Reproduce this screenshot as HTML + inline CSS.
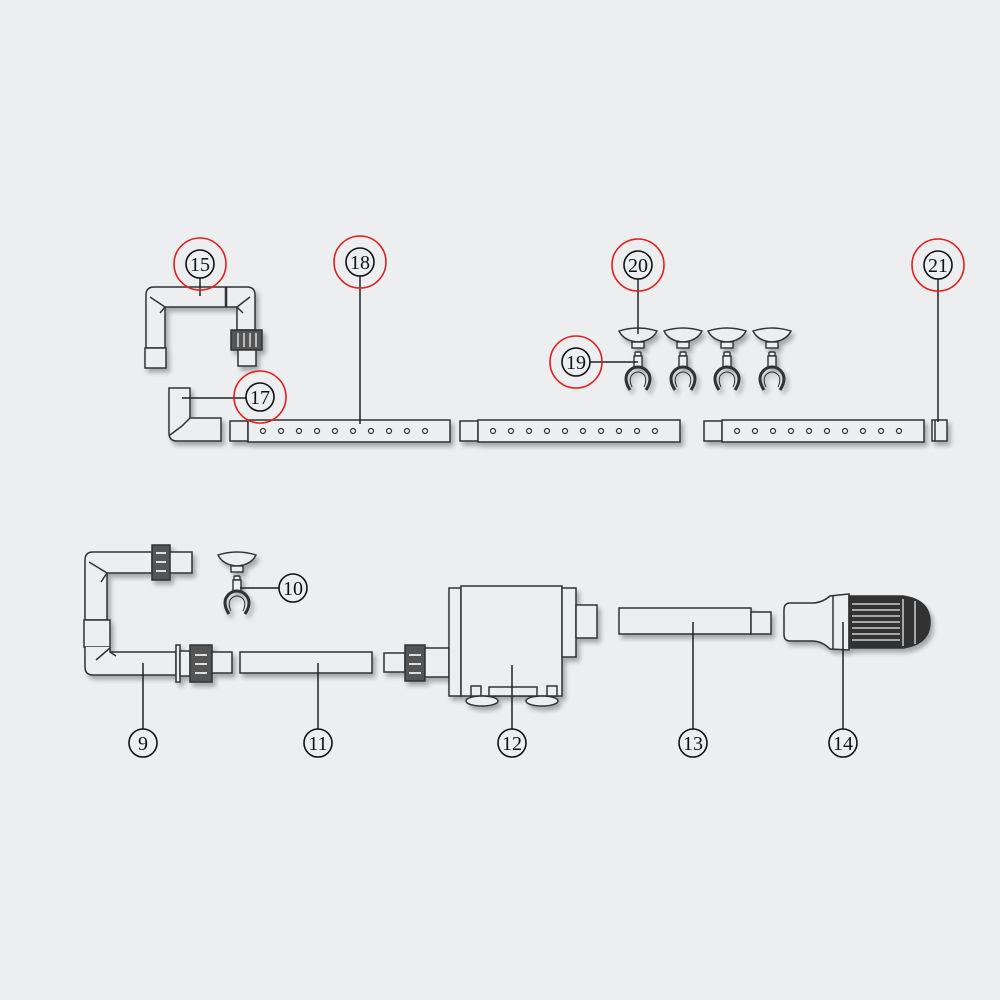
<!DOCTYPE html>
<html><head><meta charset="utf-8"><style>
html,body{margin:0;padding:0;background:#eceef0;}
svg{display:block}
text{font-family:"Liberation Serif",serif;font-size:20px;fill:#111;text-anchor:middle;}
</style></head><body>
<svg width="1000" height="1000" viewBox="0 0 1000 1000" xmlns="http://www.w3.org/2000/svg">
<defs>
<filter id="sh" x="-20%" y="-20%" width="140%" height="160%">
<feGaussianBlur in="SourceAlpha" stdDeviation="2.5"/><feOffset dx="3" dy="4"/>
<feComponentTransfer><feFuncA type="linear" slope="0.3"/></feComponentTransfer>
<feMerge><feMergeNode/><feMergeNode in="SourceGraphic"/></feMerge></filter>
<g id="bar">
<rect x="0" y="1" width="18" height="20" fill="#eceef0" stroke="#333" stroke-width="1.5"/>
<rect x="18" y="0" width="202" height="22" fill="#eceef0" stroke="#333" stroke-width="1.5"/>
<g fill="none" stroke="#333" stroke-width="1.2">
<circle cx="33" cy="11" r="2.5"/><circle cx="51" cy="11" r="2.5"/><circle cx="69" cy="11" r="2.5"/><circle cx="87" cy="11" r="2.5"/><circle cx="105" cy="11" r="2.5"/><circle cx="123" cy="11" r="2.5"/><circle cx="141" cy="11" r="2.5"/><circle cx="159" cy="11" r="2.5"/><circle cx="177" cy="11" r="2.5"/><circle cx="195" cy="11" r="2.5"/></g>
</g>
<g id="cup" fill="#eceef0" stroke="#333" stroke-width="1.4">
<path d="M-19,0 Q0,-6 19,0 Q14,10 0,11 Q-14,10 -19,0 Z"/>
<rect x="-6" y="11" width="12" height="6"/>
<rect x="-3" y="21" width="6" height="4" rx="1"/>
<rect x="-4" y="25" width="8" height="11"/>
<path d="M-8,59 Q-14,50 -11,43 Q-7,36 0,36 Q7,36 11,43 Q14,50 8,59" fill="none" stroke="#333" stroke-width="3"/>
<path d="M-6,56 Q-9,50 -7,45 Q-4,41 0,41 Q4,41 7,45 Q9,50 6,56" fill="none" stroke="#333" stroke-width="1"/>
</g>
</defs>

<g filter="url(#sh)" stroke="#333" stroke-width="1.5" fill="#eceef0">
<path d="M146,348 L146,295 Q146,287 154,287 L247,287 Q255,287 255,295 L255,330 L237,330 L237,307 L165,307 L165,348 Z"/>
<line x1="226" y1="287" x2="226" y2="307" stroke-width="2.5"/>
<path d="M150,297 L165,307 L160,313 M250,297 L237,307 L243,313" fill="none"/>
<rect x="145" y="348" width="21" height="20"/>
<rect x="231" y="330" width="31" height="20" fill="#555"/>
<g stroke="#ddd" stroke-width="1.5"><line x1="238" y1="333" x2="238" y2="347"/><line x1="244" y1="333" x2="244" y2="347"/><line x1="250" y1="333" x2="250" y2="347"/><line x1="256" y1="333" x2="256" y2="347"/></g>
<rect x="238" y="350" width="18" height="16"/>
<path d="M169,388 L190,388 L190,418 L221,418 L221,441 L177,441 Q169,441 169,433 Z"/>
<path d="M182,426 L170,435 M190,418 L182,426" fill="none"/>
<use href="#bar" x="230" y="420"/>
<use href="#bar" x="460" y="420"/>
<use href="#bar" x="704" y="420"/>
<rect x="932" y="420" width="15" height="21"/>
<line x1="935" y1="420" x2="935" y2="441"/>
<use href="#cup" x="638" y="331"/>
<use href="#cup" x="683" y="331"/>
<use href="#cup" x="727" y="331"/>
<use href="#cup" x="772" y="331"/>
<use href="#cup" x="237" y="555"/>
<path d="M85,620 L85,560 Q85,552 93,552 L152,552 L152,573 L107,573 L107,620 Z"/>
<path d="M89,562 L107,573 L101,582" fill="none"/>
<rect x="84" y="620" width="26" height="27"/>
<path d="M85,647 L85,667 Q85,675 93,675 L176,675 L176,652 L110,652 L110,647" />
<path d="M110,648 L96,660 M110,652 L116,656" fill="none"/>
<rect x="176" y="645" width="4" height="37"/>
<rect x="180" y="651" width="10" height="25"/>
<rect x="152" y="545" width="18" height="35" fill="#555"/>
<g stroke="#ddd" stroke-width="2"><line x1="156" y1="553" x2="166" y2="553"/><line x1="156" y1="562" x2="166" y2="562"/><line x1="156" y1="571" x2="166" y2="571"/></g>
<rect x="170" y="552" width="22" height="21"/>
<rect x="190" y="645" width="22" height="37" fill="#555"/>
<g stroke="#ddd" stroke-width="2"><line x1="195" y1="655" x2="207" y2="655"/><line x1="195" y1="664" x2="207" y2="664"/><line x1="195" y1="673" x2="207" y2="673"/></g>
<rect x="212" y="652" width="20" height="21"/>
<rect x="240" y="652" width="132" height="21"/>
<rect x="384" y="653" width="21" height="19"/>
<rect x="405" y="645" width="20" height="36" fill="#555"/>
<g stroke="#ddd" stroke-width="2"><line x1="409" y1="655" x2="421" y2="655"/><line x1="409" y1="664" x2="421" y2="664"/><line x1="409" y1="673" x2="421" y2="673"/></g>
<rect x="425" y="648" width="24" height="29"/>
<rect x="449" y="588" width="12" height="108"/>
<rect x="461" y="586" width="101" height="110"/>
<rect x="562" y="588" width="14" height="69"/>
<rect x="576" y="605" width="21" height="33"/>
<rect x="489" y="687" width="48" height="9"/>
<rect x="471" y="686" width="10" height="10"/>
<rect x="547" y="686" width="10" height="10"/>
<ellipse cx="482" cy="701" rx="16" ry="5"/>
<ellipse cx="542" cy="701" rx="16" ry="5"/>
<rect x="619" y="608" width="132" height="26"/>
<rect x="751" y="612" width="20" height="22"/>
<path d="M790,603 L812,603 Q822,603 830,596 L849,594 L849,650 L830,649 Q822,641 812,641 L790,641 Q784,641 784,634 L784,610 Q784,603 790,603 Z"/>
<line x1="833" y1="595" x2="833" y2="649"/>
<path d="M849,596 L903,596 Q930,600 930,622 Q930,644 903,648 L849,648 Z" fill="#333"/>
<g stroke="#ccc" stroke-width="1.5"><line x1="852" y1="604" x2="900" y2="604"/><line x1="852" y1="610" x2="900" y2="610"/><line x1="852" y1="616" x2="900" y2="616"/><line x1="852" y1="622" x2="900" y2="622"/><line x1="852" y1="628" x2="900" y2="628"/><line x1="852" y1="634" x2="900" y2="634"/><line x1="852" y1="640" x2="900" y2="640"/></g>
<path d="M903,599 L903,646 M915,601 L915,644" stroke="#ccc"/>
</g>

<g stroke="#222" stroke-width="1.5">
<line x1="200" y1="278" x2="200" y2="296"/>
<line x1="360" y1="276" x2="360" y2="424"/>
<line x1="246" y1="398" x2="182" y2="398"/>
<line x1="638" y1="279" x2="638" y2="334"/>
<line x1="562" y1="362" x2="638" y2="362"/>
<line x1="938" y1="279" x2="938" y2="422"/>
<line x1="279" y1="588" x2="240" y2="588"/>
<line x1="143" y1="663" x2="143" y2="729"/>
<line x1="318" y1="663" x2="318" y2="729"/>
<line x1="512" y1="665" x2="512" y2="729"/>
<line x1="693" y1="622" x2="693" y2="729"/>
<line x1="843" y1="622" x2="843" y2="729"/>
</g>
<g fill="none" stroke="#e02020" stroke-width="1.6">
<circle cx="200" cy="264" r="26"/><circle cx="360" cy="262" r="26"/><circle cx="260" cy="397" r="26"/>
<circle cx="576" cy="362" r="26"/><circle cx="638" cy="265" r="26"/><circle cx="938" cy="265" r="26"/>
</g>
<g fill="#eceef0" stroke="#111" stroke-width="1.6">
<circle cx="200" cy="264" r="14"/><circle cx="360" cy="262" r="14"/><circle cx="260" cy="397" r="14"/>
<circle cx="576" cy="362" r="14"/><circle cx="638" cy="265" r="14"/><circle cx="938" cy="265" r="14"/>
<circle cx="293" cy="588" r="14"/><circle cx="143" cy="743" r="14"/><circle cx="318" cy="743" r="14"/>
<circle cx="512" cy="743" r="14"/><circle cx="693" cy="743" r="14"/><circle cx="843" cy="743" r="14"/>
</g>
<g>
<text x="200" y="271">15</text><text x="360" y="269">18</text><text x="260" y="404">17</text>
<text x="576" y="369">19</text><text x="638" y="272">20</text><text x="938" y="272">21</text>
<text x="293" y="595">10</text><text x="143" y="750">9</text><text x="318" y="750">11</text>
<text x="512" y="750">12</text><text x="693" y="750">13</text><text x="843" y="750">14</text>
</g>
</svg>
</body></html>
